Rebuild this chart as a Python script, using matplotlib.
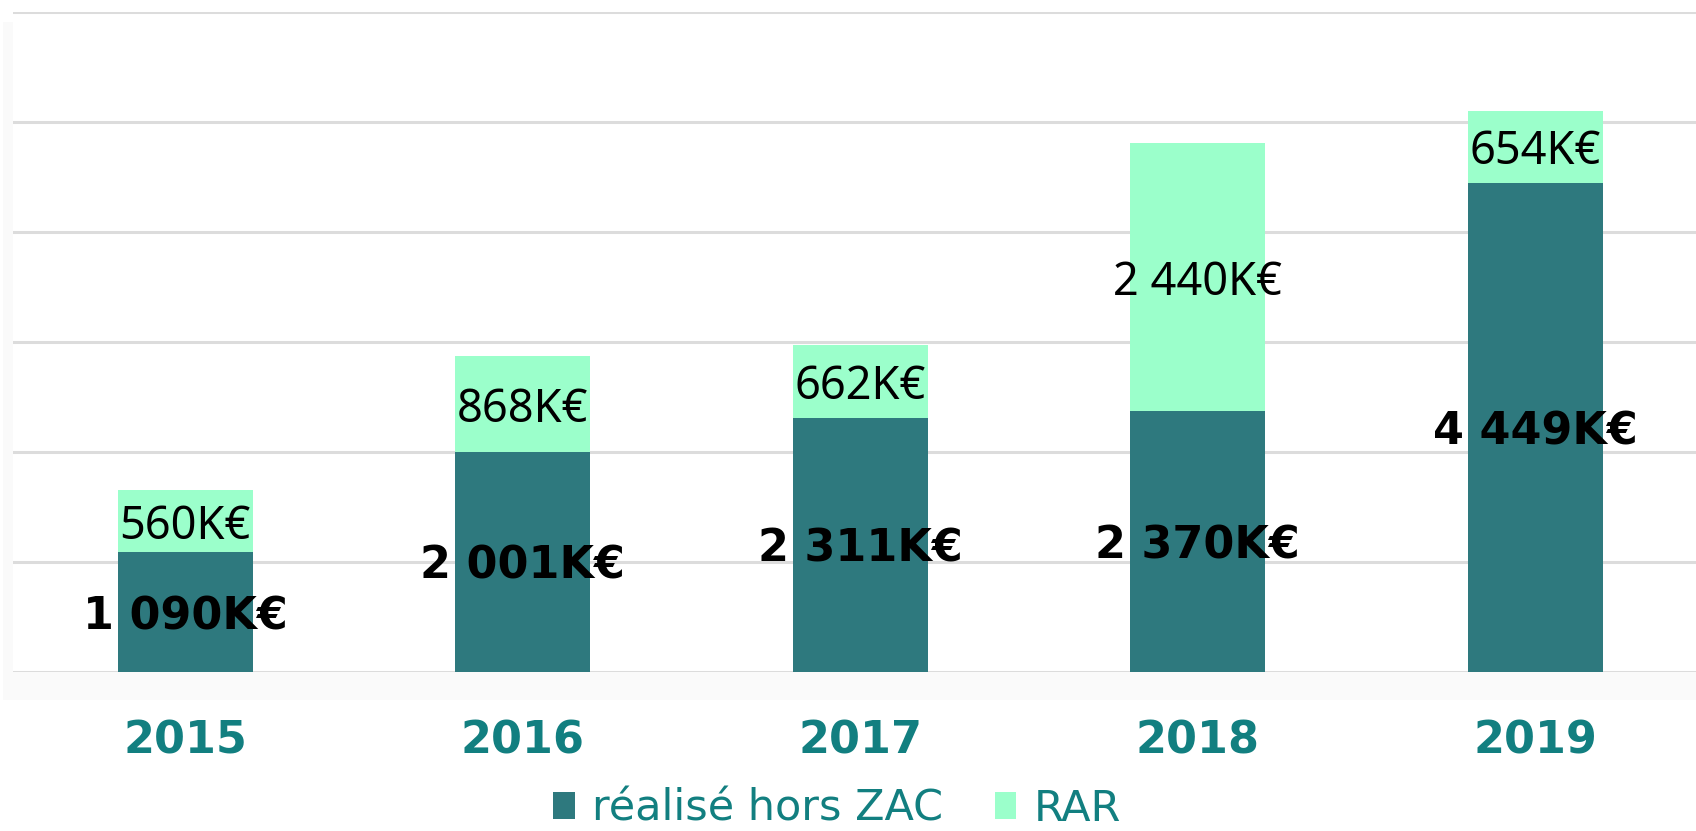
import matplotlib
matplotlib.use("Agg")
import matplotlib.pyplot as plt
from matplotlib.patches import Rectangle, Patch

years = ['2015', '2016', '2017', '2018', '2019']
realise = [1090, 2001, 2311, 2370, 4449]
rar = [560, 868, 662, 2440, 654]

c_real = '#2e797e'
c_rar = '#9bffcb'
c_text = '#127f80'


def fmt(v):
    return f"{v:,}".replace(",", " ") + "K€"


fig = plt.figure(figsize=(16.96, 8.31), dpi=100)
# faint shadow behind the plot area
fig.patches.append(Rectangle((3 / 1696, 1 - 700 / 831), 1, (700 - 22) / 831,
                             transform=fig.transFigure, facecolor='#fafafa',
                             edgecolor='none', zorder=-5))
ax = fig.add_axes([13 / 1696, 1 - 672 / 831, 1 - 13 / 1696, (672 - 12) / 831])
ax.set_zorder(1)
ax.set_facecolor('white')

x = list(range(len(years)))
ax.bar(x, realise, width=0.4, color=c_real, zorder=2)
ax.bar(x, rar, width=0.4, bottom=realise, color=c_rar, zorder=2)

for i in x:
    ax.text(i, realise[i] / 2, fmt(realise[i]), ha='center', va='center_baseline',
            fontsize=32, fontweight='bold', color='black', family='DejaVu Sans', zorder=3)
    ax.text(i, realise[i] + rar[i] / 2, fmt(rar[i]), ha='center', va='center_baseline',
            fontsize=32.5, color='black', family='Noto Sans', zorder=3)

ax.set_ylim(0, 6000)
ax.set_xlim(-0.51, 4.477)
ax.set_yticks(range(0, 6001, 1000))
ax.yaxis.grid(True, color='#dcdcdc', linewidth=2.2, zorder=0)
ax.set_axisbelow(True)
ax.tick_params(axis='y', left=False, labelleft=False)
ax.set_xticks(x)
ax.set_xticklabels(years, fontsize=32, fontweight='bold', color=c_text)
ax.tick_params(axis='x', length=0, pad=34)
for s in ax.spines.values():
    s.set_visible(False)

handles = [Patch(facecolor=c_real, label='réalisé hors ZAC'),
           Patch(facecolor=c_rar, label='RAR')]
fig.legend(handles=handles, loc='center', bbox_to_anchor=(0.4935, 0.0265), ncol=2,
           frameon=False, fontsize=31, labelcolor=c_text, handlelength=0.5,
           handleheight=0.6, handletextpad=0.4, columnspacing=1.2, borderpad=0)

fig.savefig('out.png', dpi=100)
